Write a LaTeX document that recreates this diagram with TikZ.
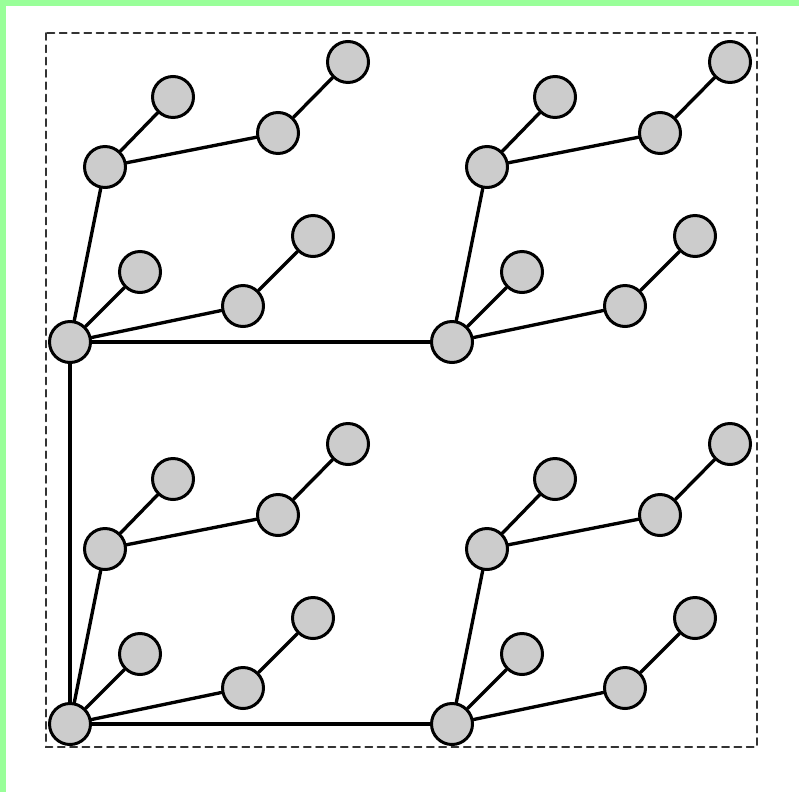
\documentclass[tikz,border=0pt]{standalone}
\usepackage{tikz}

\begin{document}
\begin{tikzpicture}[x=0.2mm,y=-0.2mm,line cap=round]
	\tikzstyle{vtx}=[circle,draw,line width=1.7pt,fill=black!20,minimum size=8.2mm,inner sep=0pt];
	\tikzstyle{edge}=[line width=1.9pt];
	\useasboundingbox (0,0) rectangle (799,792);
	\fill[green!40] (0,0) rectangle (799,6);
	\fill[green!40] (0,0) rectangle (6,792);
	\draw[dashed,black!80,line width=1pt,dash pattern=on 4pt off 3pt] (46,33) rectangle (757,747);
	% one quadrant of eight nodes, repeated four times
	\foreach \q/\px/\py in {a/70/342,b/452/342,c/70/724,d/452/724}{
		\begin{scope}[shift={(\px,\py)}]
			\node[vtx] (\q-r)   at (0,0)       {};
			\node[vtx] (\q-u)   at (35,-175)   {};
			\node[vtx] (\q-ud)  at (103,-245)  {};
			\node[vtx] (\q-ur)  at (208,-209)  {};
			\node[vtx] (\q-urd) at (278,-280)  {};
			\node[vtx] (\q-d)   at (70,-70)    {};
			\node[vtx] (\q-v)   at (173,-36)   {};
			\node[vtx] (\q-vd)  at (243,-106)  {};
			\draw[edge] (\q-r) -- (\q-u);
			\draw[edge] (\q-u) -- (\q-ud);
			\draw[edge] (\q-u) -- (\q-ur);
			\draw[edge] (\q-ur) -- (\q-urd);
			\draw[edge] (\q-r) -- (\q-d);
			\draw[edge] (\q-r) -- (\q-v);
			\draw[edge] (\q-v) -- (\q-vd);
		\end{scope}
	}
	\draw[edge] (c-r) -- (a-r);
	\draw[edge] (c-r) -- (d-r);
	\draw[edge] (a-r) -- (b-r);
\end{tikzpicture}
\end{document}
